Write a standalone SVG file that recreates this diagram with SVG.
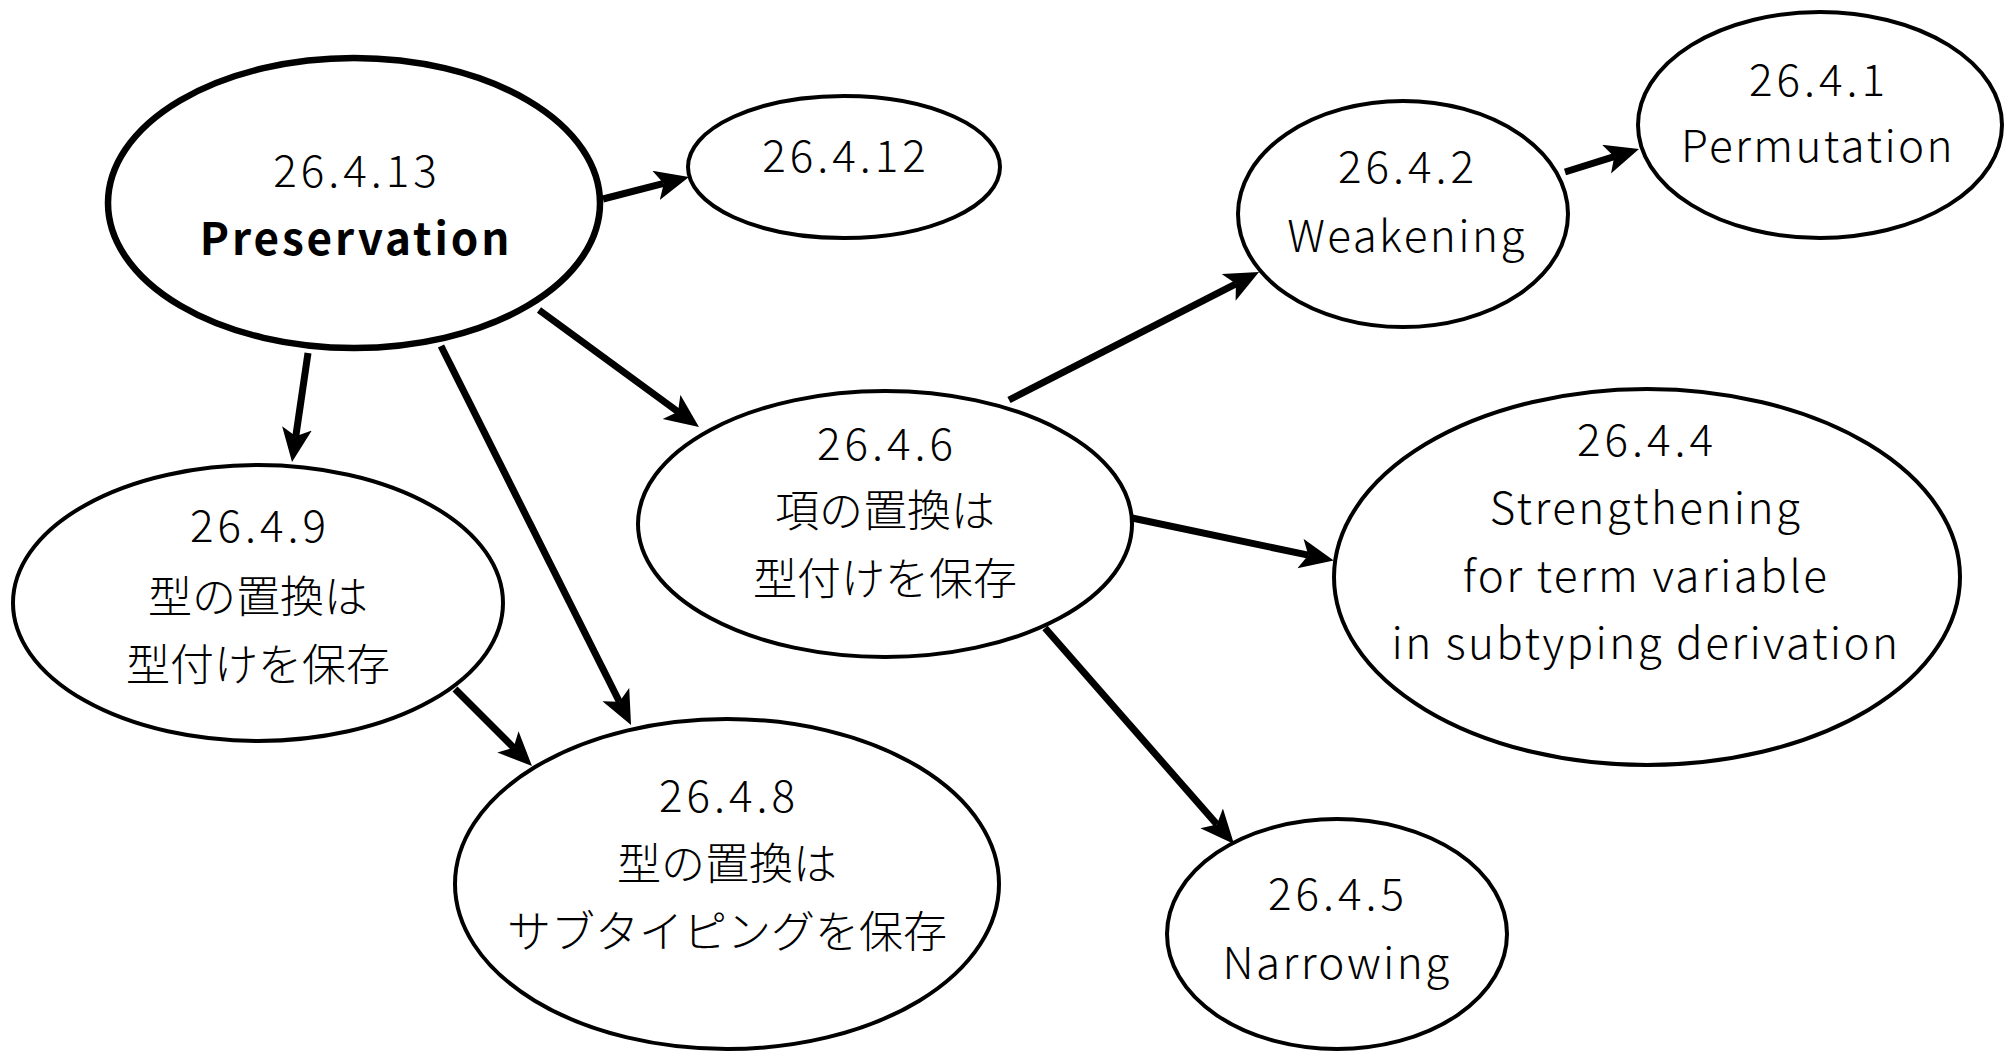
<svg xmlns="http://www.w3.org/2000/svg" width="2011" height="1051" viewBox="0 0 2011 1051">
<style>
.n ellipse{fill:#fff;stroke:#000;stroke-width:4}
.n text{font-family:"Noto Sans CJK JP","Noto Sans",sans-serif;font-size:44px;font-weight:300;fill:#000;text-anchor:middle;dominant-baseline:central}
.n text.d{letter-spacing:4px}
.n text.l{letter-spacing:2.4px}
.n text.b{letter-spacing:2.9px;font-weight:bold}
.e line{stroke:#000;stroke-width:7;marker-end:url(#ah)}
</style>
<defs>
<marker id="ah" markerUnits="userSpaceOnUse" markerWidth="36" markerHeight="32" refX="8" refY="15" orient="auto">
<path d="M0,0 L34,15 L0,30 L8,15 z" fill="#000"/>
</marker>
</defs>
<rect width="2011" height="1051" fill="#fff"/>
<g id="edges" class="e">
<line x1="603" y1="199" x2="663.8" y2="183.4"/>
<line x1="308" y1="353" x2="295.8" y2="436.3"/>
<line x1="441" y1="346" x2="619.4" y2="701.8"/>
<line x1="539" y1="310" x2="678" y2="411.7"/>
<line x1="455" y1="689" x2="513.6" y2="747.6"/>
<line x1="1009" y1="400" x2="1235.9" y2="283.8"/>
<line x1="1565" y1="172" x2="1614.2" y2="156.7"/>
<line x1="1132" y1="518" x2="1308.3" y2="555.2"/>
<line x1="1045" y1="628" x2="1216.9" y2="824.4"/>
</g>
<g id="n26413" class="n">
<ellipse cx="354" cy="203" rx="246" ry="145" style="stroke-width:6.5"/>
<text class="d" x="357" y="168">26.4.13</text>
<text class="b" x="356" y="236">Preservation</text>
</g>
<g id="n26412" class="n">
<ellipse cx="844" cy="167" rx="156" ry="71"/>
<text class="d" x="846" y="153">26.4.12</text>
</g>
<g id="n2642" class="n">
<ellipse cx="1403" cy="214" rx="165" ry="113"/>
<text class="d" x="1408" y="164">26.4.2</text>
<text class="l" x="1407" y="233">Weakening</text>
</g>
<g id="n2641" class="n">
<ellipse cx="1820" cy="125" rx="182" ry="113"/>
<text class="d" x="1819" y="77">26.4.1</text>
<text class="l" x="1818" y="143">Permutation</text>
</g>
<g id="n2646" class="n">
<ellipse cx="885" cy="524" rx="247" ry="133"/>
<text class="d" x="887" y="441">26.4.6</text>
<text x="885" y="508">項の置換は</text>
<text x="885" y="576">型付けを保存</text>
</g>
<g id="n2644" class="n">
<ellipse cx="1647" cy="577" rx="313" ry="188"/>
<text class="d" x="1647" y="437">26.4.4</text>
<text class="l" x="1646" y="505">Strengthening</text>
<text class="l" x="1646" y="573">for term variable</text>
<text class="l" x="1646" y="640">in subtyping derivation</text>
</g>
<g id="n2649" class="n">
<ellipse cx="258" cy="603" rx="245" ry="138"/>
<text class="d" x="260" y="523">26.4.9</text>
<text x="258" y="594">型の置換は</text>
<text x="258" y="662">型付けを保存</text>
</g>
<g id="n2648" class="n">
<ellipse cx="727" cy="884" rx="272" ry="165"/>
<text class="d" x="729" y="793">26.4.8</text>
<text x="727" y="861">型の置換は</text>
<text x="727" y="929">サブタイピングを保存</text>
</g>
<g id="n2645" class="n">
<ellipse cx="1337" cy="934" rx="170" ry="115"/>
<text class="d" x="1338" y="891">26.4.5</text>
<text class="l" x="1337" y="960">Narrowing</text>
</g>
</svg>
